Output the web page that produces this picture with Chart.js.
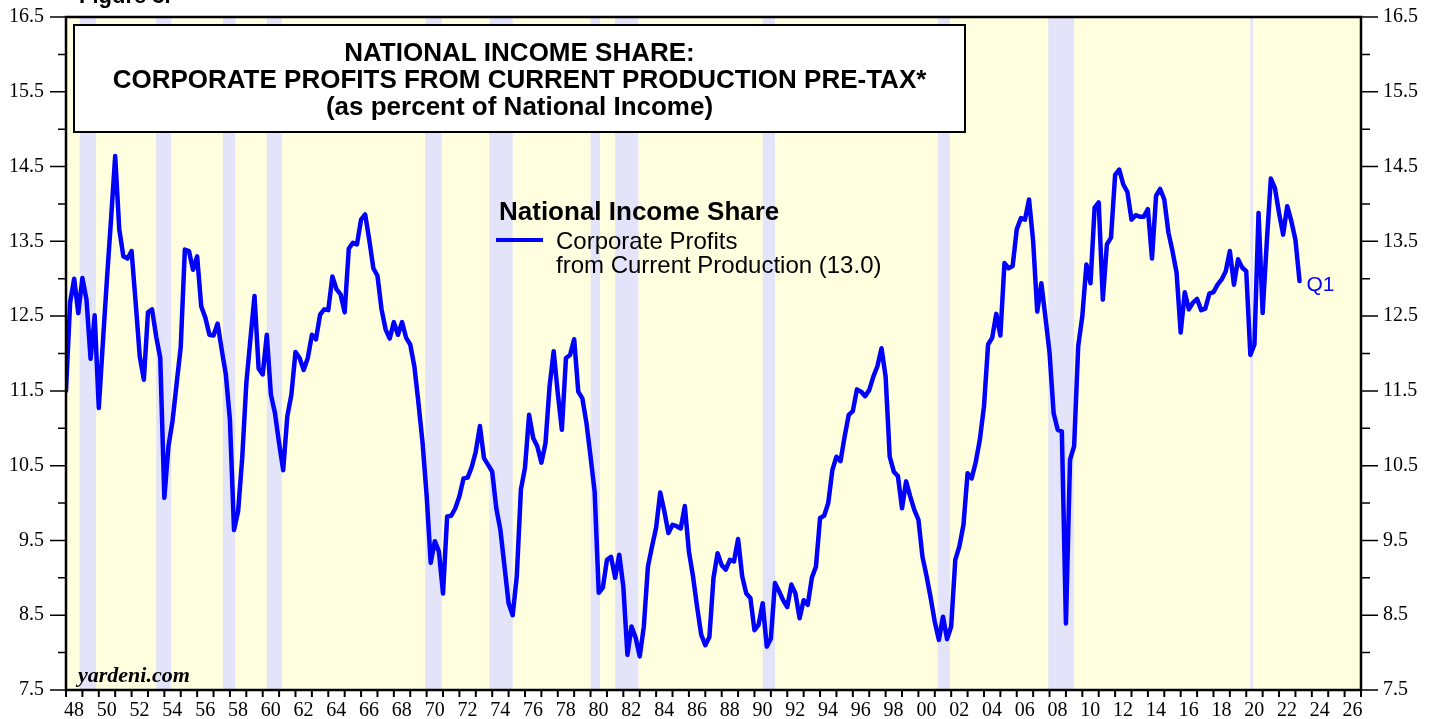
<!DOCTYPE html>
<html>
<head>
<meta charset="utf-8">
<title>National Income Share: Corporate Profits</title>
<script src="https://cdn.jsdelivr.net/npm/chart.js@4.4.1/dist/chart.umd.min.js"></script>
<style>
  html, body { margin: 0; padding: 0; background: #fff; overflow: hidden; }
</style>
</head>
<body>
<canvas id="chart" width="1437" height="719"></canvas>
<script>
// quarterly series, first value is 1947 Q4, last is 2023 Q1 (one row per year)
const firstYear = 1947;
const firstQuarter = 4;
const profitShare = [
  11.5,
  12.68, 13.0, 12.54, 13.01,   // 1948
  12.72, 11.93, 12.51, 11.27,
  12.15, 13.0, 13.8, 14.64,    // 1950
  13.66, 13.3, 13.27, 13.37,
  12.68, 11.96, 11.65, 12.55,
  12.59, 12.23, 11.94, 10.07,
  10.76, 11.1, 11.6, 12.09,
  13.39, 13.37, 13.12, 13.3,   // 1955
  12.63, 12.48, 12.25, 12.24,
  12.4, 12.05, 11.72, 11.11,
  9.64, 9.89, 10.6, 11.6,
  12.19, 12.77, 11.8, 11.72,
  12.25, 11.45, 11.2, 10.8,    // 1960
  10.44, 11.16, 11.45, 12.02,
  11.94, 11.78, 11.94, 12.25,
  12.19, 12.52, 12.59, 12.58,
  13.03, 12.86, 12.79, 12.55,
  13.4, 13.48, 13.46, 13.79,   // 1965
  13.86, 13.52, 13.14, 13.04,
  12.59, 12.32, 12.2, 12.42,
  12.25, 12.42, 12.21, 12.12,
  11.83, 11.34, 10.81, 10.1,
  9.2, 9.49, 9.35, 8.79,       // 1970
  9.82, 9.83, 9.93, 10.09,
  10.33, 10.34, 10.48, 10.69,
  11.03, 10.6, 10.51, 10.42,
  9.93, 9.64, 9.15, 8.66,
  8.5, 9.02, 10.18, 10.47,     // 1975
  11.18, 10.87, 10.76, 10.54,
  10.8, 11.56, 12.03, 11.47,
  10.98, 11.94, 11.98, 12.19,
  11.49, 11.4, 11.07, 10.62,
  10.15, 8.8, 8.87, 9.24,      // 1980
  9.28, 9.0, 9.31, 8.88,
  7.97, 8.35, 8.2, 7.95,
  8.35, 9.15, 9.42, 9.67,
  10.14, 9.89, 9.6, 9.71,
  9.69, 9.66, 9.96, 9.35,      // 1985
  9.02, 8.61, 8.24, 8.1,
  8.21, 9.0, 9.33, 9.17,
  9.11, 9.24, 9.22, 9.52,
  9.02, 8.79, 8.73, 8.3,
  8.37, 8.66, 8.08, 8.19,      // 1990
  8.93, 8.82, 8.7, 8.61,
  8.91, 8.79, 8.46, 8.7,
  8.64, 9.0, 9.15, 9.8,
  9.83, 10.0, 10.44, 10.62,
  10.56, 10.89, 11.18, 11.23,  // 1995
  11.52, 11.49, 11.43, 11.51,
  11.69, 11.83, 12.07, 11.69,
  10.62, 10.42, 10.36, 9.93,
  10.29, 10.09, 9.91, 9.78,
  9.28, 9.02, 8.73, 8.41,      // 2000
  8.17, 8.48, 8.18, 8.35,
  9.24, 9.42, 9.71, 10.4,
  10.33, 10.55, 10.85, 11.29,
  12.12, 12.21, 12.53, 12.24,
  13.21, 13.14, 13.17, 13.66,  // 2005
  13.81, 13.79, 14.06, 13.5,
  12.56, 12.94, 12.48, 12.01,
  11.2, 10.98, 10.96, 8.39,
  10.58, 10.76, 12.1, 12.5,
  13.19, 12.94, 13.95, 14.02,  // 2010
  12.72, 13.46, 13.55, 14.39,
  14.46, 14.26, 14.16, 13.79,
  13.85, 13.83, 13.83, 13.93,
  13.27, 14.11, 14.2, 14.06,
  13.62, 13.37, 13.08, 12.28,  // 2015
  12.82, 12.59, 12.68, 12.73,
  12.58, 12.6, 12.8, 12.82,
  12.92, 12.99, 13.1, 13.37,
  12.92, 13.26, 13.15, 13.1,
  11.98, 12.12, 13.88, 12.54,  // 2020
  13.48, 14.34, 14.21, 13.88,
  13.59, 13.97, 13.77, 13.52,
  12.97                        // 2023 Q1
];

// recessions (decimal years)
const recessionStart = [1948.83, 1953.5, 1957.58, 1960.25, 1969.92, 1973.83, 1980.0, 1981.5, 1990.5, 2001.17, 2007.92, 2020.25];
const recessionEnd   = [1949.83, 1954.42, 1958.33, 1961.17, 1970.92, 1975.25, 1980.58, 1982.92, 1991.25, 2001.92, 2009.5, 2020.42];

const yMin = 7.5, yMax = 16.5, yStep = 0.5;
const xMin = 1948, xMax = 2027;

const titleLines = [
  'NATIONAL INCOME SHARE:',
  'CORPORATE PROFITS FROM CURRENT PRODUCTION PRE-TAX*',
  '(as percent of National Income)'
];
const legendTitle = 'National Income Share';
const seriesLabel = ['Corporate Profits', 'from Current Production (13.0)'];
const lastLabel = 'Q1';

const points = profitShare.map((v, i) => ({
  x: firstYear + (firstQuarter + i) / 4,   // plotted at end of quarter
  y: v
}));

const sans = '"Liberation Sans", Arial, sans-serif';
const serif = '"Liberation Serif", "Times New Roman", serif';

function isMajor(v) {
  return Math.abs((v % 1) - 0.5) < 1e-6;
}

// keep the plot area fixed: no extra padding from the tick labels
function fixBox(w, h) {
  return s => {
    if (w) s.width = w;
    if (h) s.height = h;
    s.paddingTop = 0;
    s.paddingBottom = 0;
    s.paddingLeft = 0;
    s.paddingRight = 0;
  };
}

// background, recession shading, title box, frame, ticks, legend
const decor = {
  id: 'decor',
  beforeDraw(chart) {
    const { ctx, chartArea: a } = chart;
    const xs = chart.scales.x;
    ctx.save();
    ctx.fillStyle = '#ffffff';
    ctx.fillRect(0, 0, chart.width, chart.height);
    ctx.fillStyle = '#ffffe0';
    ctx.fillRect(a.left, a.top, a.right - a.left, a.bottom - a.top);

    ctx.fillStyle = '#e3e3fa';
    recessionStart.forEach((s, k) => {
      const x0 = xs.getPixelForValue(s);
      const x1 = xs.getPixelForValue(recessionEnd[k]);
      ctx.fillRect(x0, a.top, x1 - x0, a.bottom - a.top);
    });

    // title box
    ctx.fillStyle = '#ffffff';
    ctx.fillRect(74, 25, 891, 107);
    ctx.strokeStyle = '#000';
    ctx.lineWidth = 2;
    ctx.strokeRect(74, 25, 891, 107);
    ctx.fillStyle = '#000';
    ctx.font = 'bold 26px ' + sans;
    ctx.textAlign = 'center';
    ctx.textBaseline = 'alphabetic';
    titleLines.forEach((t, k) => ctx.fillText(t, 519.5, 61 + k * 27));

    // "Figure 3." cut off at the top
    ctx.textAlign = 'left';
    ctx.font = 'bold 22px ' + sans;
    ctx.fillText('Figure 3.', 79, 3);
    ctx.restore();
  },
  afterDatasetsDraw(chart) {
    const { ctx, chartArea: a } = chart;
    const xs = chart.scales.x;
    const ys = chart.scales.y;
    ctx.save();
    ctx.strokeStyle = '#000';

    // y ticks both sides
    ctx.lineWidth = 1.5;
    ys.ticks.forEach(t => {
      const y = ys.getPixelForValue(t.value);
      const major = isMajor(t.value);
      ctx.beginPath();
      ctx.moveTo(a.left - (major ? 16 : 8), y);
      ctx.lineTo(a.left, y);
      ctx.moveTo(a.right, y);
      ctx.lineTo(a.right + (major ? 17 : 9), y);
      ctx.stroke();
    });

    // yearly x ticks
    ctx.lineWidth = 2;
    xs.ticks.forEach(t => {
      const x = xs.getPixelForValue(t.value);
      ctx.beginPath();
      ctx.moveTo(x, a.bottom);
      ctx.lineTo(x, a.bottom + 7);
      ctx.stroke();
    });

    // frame
    ctx.lineWidth = 2.5;
    ctx.strokeRect(a.left, a.top, a.right - a.left, a.bottom - a.top);

    // legend
    ctx.fillStyle = '#000';
    ctx.textAlign = 'left';
    ctx.textBaseline = 'alphabetic';
    ctx.font = 'bold 26px ' + sans;
    ctx.fillText(legendTitle, 499, 220);
    ctx.font = '24px ' + sans;
    ctx.fillText(seriesLabel[0], 556, 249);
    ctx.fillText(seriesLabel[1], 556, 273);
    ctx.strokeStyle = '#0000ff';
    ctx.lineWidth = 4;
    ctx.beginPath();
    ctx.moveTo(496, 240);
    ctx.lineTo(543, 240);
    ctx.stroke();

    // label at the last point
    const last = points[points.length - 1];
    ctx.fillStyle = '#0000ff';
    ctx.font = '21px ' + sans;
    ctx.textBaseline = 'middle';
    ctx.fillText(lastLabel, xs.getPixelForValue(last.x) + 7, ys.getPixelForValue(last.y) + 4);

    // source
    ctx.fillStyle = '#000';
    ctx.font = 'bold italic 22px ' + serif;
    ctx.textBaseline = 'alphabetic';
    ctx.fillText('yardeni.com', 78, 682);
    ctx.restore();
  }
};

const tickFont = { family: serif, size: 20 };

new Chart(document.getElementById('chart').getContext('2d'), {
  type: 'line',
  data: {
    datasets: [{
      label: seriesLabel.join(' '),
      data: points,
      borderColor: '#0000ff',
      borderWidth: 4.5,
      borderJoinStyle: 'round',
      borderCapStyle: 'round',
      pointRadius: 0,
      tension: 0,
      fill: false
    }]
  },
  options: {
    responsive: false,
    animation: false,
    devicePixelRatio: 1,
    layout: { padding: { top: 17, left: 0, right: 0, bottom: 0 } },
    plugins: {
      legend: { display: false },
      tooltip: { enabled: false }
    },
    scales: {
      x: {
        type: 'linear',
        position: 'bottom',
        min: xMin,
        max: xMax,
        grid: { display: false, drawTicks: false },
        border: { display: false },
        ticks: {
          stepSize: 1,
          autoSkip: false,
          maxRotation: 0,
          labelOffset: 8,
          padding: 9,
          color: '#000',
          font: tickFont,
          callback: v => (v % 2 === 0 ? String(v % 100).padStart(2, '0') : '')
        },
        afterFit: fixBox(0, 29)
      },
      y: {
        position: 'left',
        min: yMin,
        max: yMax,
        grid: { display: false, drawTicks: false },
        border: { display: false },
        ticks: {
          stepSize: yStep,
          padding: 22,
          color: '#000',
          font: tickFont,
          callback: v => (isMajor(v) ? v.toFixed(1) : '')
        },
        afterFit: fixBox(66, 0)
      },
      y2: {
        position: 'right',
        min: yMin,
        max: yMax,
        grid: { display: false, drawTicks: false },
        border: { display: false },
        ticks: {
          stepSize: yStep,
          padding: 22,
          color: '#000',
          font: tickFont,
          callback: v => (isMajor(v) ? v.toFixed(1) : '')
        },
        afterFit: fixBox(76, 0)
      }
    }
  },
  plugins: [decor]
});
</script>
</body>
</html>
